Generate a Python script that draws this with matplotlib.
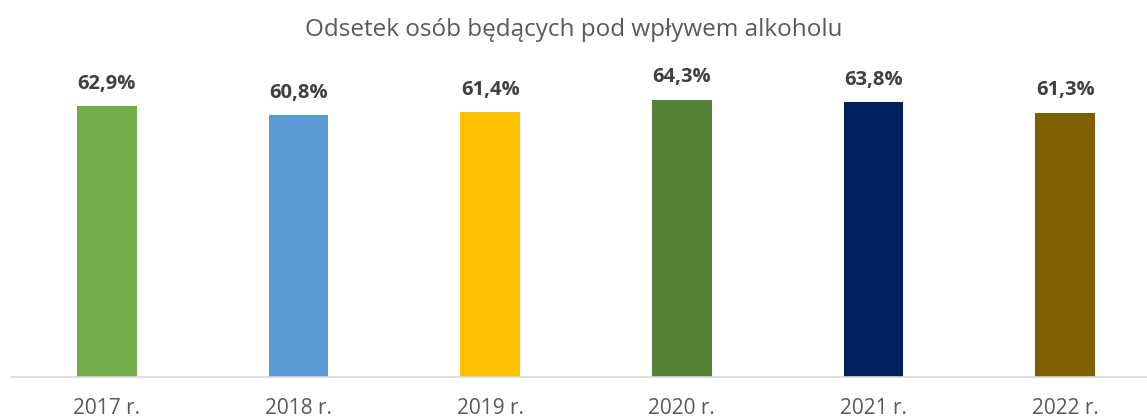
import matplotlib.pyplot as plt

years = ["2017 r.", "2018 r.", "2019 r.", "2020 r.", "2021 r.", "2022 r."]
values = [62.9, 60.8, 61.4, 64.3, 63.8, 61.3]
colors = ["#70AD47", "#5B9BD5", "#FFC000", "#548235", "#002060", "#7F6000"]

plt.rcParams['font.family'] = ['Open Sans', 'DejaVu Sans']

fig = plt.figure(figsize=(11.47, 4.19), dpi=100)
ax = fig.add_axes([11 / 1147, 0.1, 1150 / 1147, 0.72])

x = range(len(years))
bars = ax.bar(x, values, width=0.31, color=colors)

for i, v in enumerate(values):
    ax.annotate(f"{v:.1f}%".replace(".", ","), (i, v), xytext=(0, 9),
                textcoords="offset points", ha="center", va="bottom",
                fontsize=14.5, fontweight="bold", color="#404040")

ax.set_xlim(-0.5, 5.5)
ax.set_ylim(0, 70)
ax.set_xticks(list(x))
ax.set_xticklabels(years, fontsize=15, color="#595959")
ax.tick_params(axis="x", length=0, pad=15)
ax.set_yticks([])
for s in ["top", "right", "left"]:
    ax.spines[s].set_visible(False)
ax.spines["bottom"].set_color("#D9D9D9")
ax.spines["bottom"].set_linewidth(1.2)

fig.text(0.5, 0.928, "Odsetek osób będących pod wpływem alkoholu",
         ha="center", va="center", fontsize=17.5, color="#595959")

fig.savefig("out.png", dpi=100)
